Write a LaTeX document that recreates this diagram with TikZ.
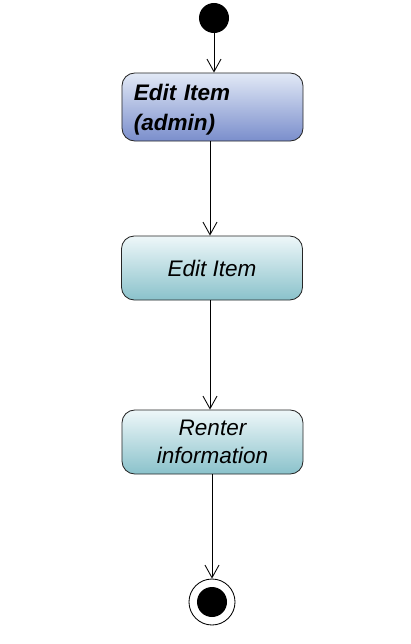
\documentclass[tikz,border=0pt]{standalone}
\usepackage{fontspec}
\setmainfont{Liberation Sans}
\definecolor{umlblue1}{RGB}{226,233,246}
\definecolor{umlblue2}{RGB}{122,142,204}
\definecolor{umlteal1}{RGB}{238,247,249}
\definecolor{umlteal2}{RGB}{138,194,203}
\usetikzlibrary{arrows.meta,positioning}

\begin{document}
\begin{tikzpicture}[x=0.025cm,y=-0.025cm,
    actbox/.style={draw=black!85,line width=0.6pt,rounded corners=0.32cm,minimum width=4.525cm,
      font=\fontsize{16}{20}\selectfont\itshape},
    tealbox/.style={actbox,top color=umlteal1,bottom color=umlteal2,minimum height=1.6cm,align=center},
    flow/.style={-{Straight Barb[length=9pt,width=10pt]},line width=0.6pt}]
  \useasboundingbox (0,0) rectangle (410,644);
  \node[circle,fill=black,minimum size=0.75cm,inner sep=0pt] (start) at (214,18) {};
  \node[actbox,top color=umlblue1,bottom color=umlblue2,minimum height=1.7cm,text width=3.925cm,
    align=left,font=\fontsize{16}{21.5}\selectfont\bfseries\itshape] (admin) at (212.5,107) {\strut Edit Item\\(admin)};
  \node[tealbox] (edit) at (212,268) {Edit Item};
  \node[tealbox,font=\fontsize{16}{20}\selectfont\itshape] (renter) at (212.5,442) {Renter\\information};
  \node[circle,draw,line width=0.6pt,minimum size=1.15cm,inner sep=0pt] (stop) at (212,602) {};
  \node[circle,fill=black,minimum size=0.75cm,inner sep=0pt] (stopdot) at (stop.center) {};
  \draw[flow] (start) -- (start |- admin.north);
  \draw[flow] (admin.south -| 210,0) -- (edit.north -| 210,0);
  \draw[flow] (edit.south -| 210,0) -- (renter.north -| 210,0);
  \draw[flow] (renter.south -| stop) -- (stop);
\end{tikzpicture}
\end{document}
